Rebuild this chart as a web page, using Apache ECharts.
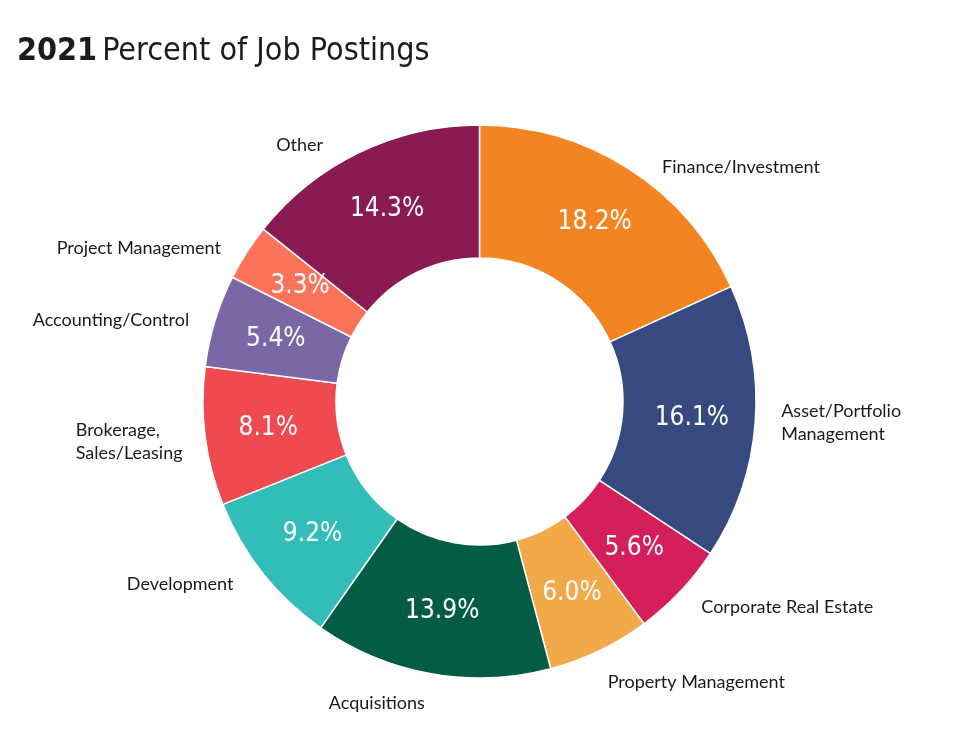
<!DOCTYPE html>
<html>
<head>
<meta charset="utf-8">
<script src="https://cdn.jsdelivr.net/npm/echarts@6/dist/echarts.min.js"></script>
<style>
  html, body { margin: 0; padding: 0; background: #fff; }
  #main { width: 960px; height: 747px; }
</style>
</head>
<body>
<div id="main"></div>
<script>
var categories = ['Finance/Investment', 'Asset/Portfolio\nManagement', 'Corporate Real Estate', 'Property Management',
    'Acquisitions', 'Development', 'Brokerage,\nSales/Leasing', 'Accounting/Control', 'Project Management', 'Other'];
var shares = [18.2, 16.1, 5.6, 6.0, 13.9, 9.2, 8.1, 5.4, 3.3, 14.3];

var sliceColors = ['#f28522', '#374a80', '#d41f5b', '#f2a94a', '#045c45',
    '#33bdb8', '#ee4a4f', '#7a68a6', '#fa735a', '#8a1a52'];
// label line lengths per slice (line hidden, only used to place the names)
var nameLen = [2, 0, 22, 35, 30, 17, 40, 3, 8, 8];
var nameLen2 = [27, 21, 0, -12, -4, 11, -22, 18, 14, 28];

var narrow = '"DejaVu Sans Condensed", "DejaVu Sans", sans-serif';
var plain = 'Lato, sans-serif';

var myChart = echarts.init(document.getElementById('main'));

var option = {
    backgroundColor: '#fff',
    animation: false,
    title: {
        left: 12,
        top: 31,
        text: '{b|2021} {r|Percent of Job Postings}',
        textStyle: {
            rich: {
                b: { fontFamily: narrow, fontWeight: 'bold', fontSize: 32, color: '#1c1c1c' },
                r: { fontFamily: narrow, fontWeight: 'normal', fontSize: 32, color: '#1c1c1c' }
            }
        }
    },
    series: [{
        type: 'pie',
        center: [479.5, 401.5],
        radius: [143.5, 276.5],
        startAngle: 90,
        clockwise: true,
        silent: true,
        itemStyle: {
            borderColor: '#fff',
            borderWidth: 1.5
        },
        label: {
            show: true,
            position: 'inside',
            color: '#fff',
            fontFamily: narrow,
            fontSize: 26,
            formatter: function (p) {
                return p.value.toFixed(1) + '%';
            }
        },
        labelLine: { show: false },
        data: shares.map(function (v, i) {
            return { name: categories[i], value: v, itemStyle: { color: sliceColors[i] } };
        })
    }, {
        type: 'pie',
        center: [479.5, 401.5],
        radius: [143.5, 276.5],
        startAngle: 90,
        clockwise: true,
        silent: true,
        avoidLabelOverlap: false,
        itemStyle: { color: 'transparent' },
        label: {
            show: true,
            position: 'outside',
            color: '#1a1a1a',
            fontFamily: plain,
            fontSize: 18,
            lineHeight: 23,
            formatter: function (p) {
                return p.name.split('\n').map(function (s) {
                    return '{l|' + s + '}';
                }).join('\n');
            },
            rich: {
                l: { align: 'left', fontFamily: plain, fontSize: 18, lineHeight: 23, color: '#1a1a1a' }
            }
        },
        labelLine: { show: false },
        data: shares.map(function (v, i) {
            return {
                name: categories[i],
                value: v,
                labelLine: { show: false, length: nameLen[i], length2: nameLen2[i] }
            };
        })
    }]
};

myChart.setOption(option);
</script>
</body>
</html>
